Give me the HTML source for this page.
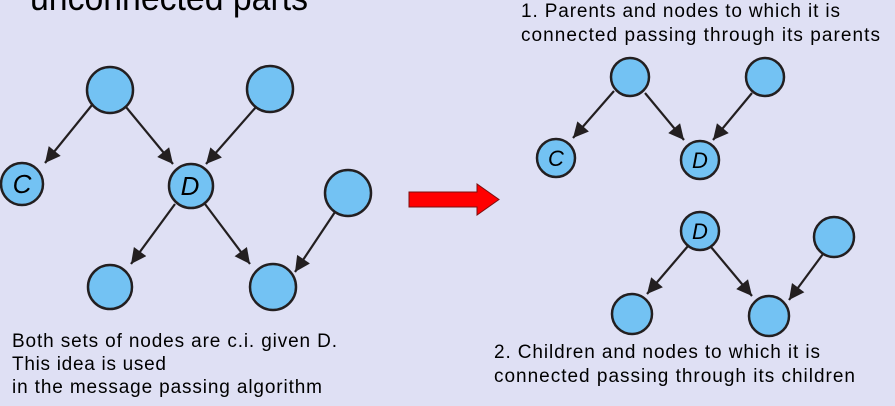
<!DOCTYPE html>
<html><head><meta charset="utf-8"><style>
body{margin:0;width:895px;height:406px;background:#dfe0f4;overflow:hidden}
svg{display:block}
text{font-family:"Liberation Sans",sans-serif;fill:#000}
</style></head><body>
<svg width="895" height="406" viewBox="0 0 895 406">
<defs>
<marker id="a" viewBox="0 0 10 10" refX="10" refY="5" markerWidth="8" markerHeight="7" orient="auto" markerUnits="strokeWidth">
<path d="M0,0 L10,5 L0,10 z" fill="#231f20"/></marker>
</defs>
<text x="30" y="10" font-size="36" textLength="278" lengthAdjust="spacingAndGlyphs">unconnected parts</text>
<g stroke="#231f20" stroke-width="2.2" fill="none" marker-end="url(#a)">
<line x1="92" y1="105" x2="45" y2="163"/>
<line x1="126" y1="107" x2="173" y2="164"/>
<line x1="256" y1="107" x2="206" y2="164"/>
<line x1="175" y1="204" x2="131" y2="264"/>
<line x1="205" y1="204" x2="250" y2="264"/>
<line x1="335" y1="212" x2="295" y2="272"/>
<line x1="614" y1="91" x2="573" y2="138"/>
<line x1="645" y1="93" x2="684" y2="140"/>
<line x1="752" y1="93" x2="713" y2="140"/>
<line x1="688" y1="246" x2="647" y2="294"/>
<line x1="711" y1="247" x2="752" y2="296"/>
<line x1="823" y1="254" x2="789" y2="300"/>
</g>
<g fill="#73c2f3" stroke="#231f20" stroke-width="2.5">
<circle cx="110" cy="90" r="23"/><circle cx="270" cy="89" r="23"/>
<circle cx="22" cy="184" r="21"/><circle cx="191" cy="186" r="22"/>
<circle cx="348" cy="193" r="23"/><circle cx="110" cy="287" r="22"/>
<circle cx="273" cy="287" r="23"/>
<circle cx="630" cy="77" r="19"/><circle cx="765" cy="77" r="19"/>
<circle cx="556" cy="158" r="19"/><circle cx="700" cy="160" r="19"/>
<circle cx="700" cy="231" r="19"/><circle cx="834" cy="237" r="20"/>
<circle cx="632" cy="314" r="20"/><circle cx="769" cy="316" r="20"/>
</g>
<g font-style="italic" font-size="26" text-anchor="middle">
<text x="22" y="193">C</text><text x="190" y="195">D</text>
</g>
<g font-style="italic" font-size="22" text-anchor="middle">
<text x="556" y="166">C</text><text x="700" y="168">D</text><text x="700" y="239">D</text>
</g>
<path d="M409,192 H477 V184 L499,199.5 L477,215 V207 H409 Z" fill="#f00" stroke="#7a1010" stroke-width="1"/>
<g font-size="19" lengthAdjust="spacingAndGlyphs">
<text x="521" y="17" textLength="319">1. Parents and nodes to which it is</text>
<text x="521" y="41" textLength="359">connected passing through its parents</text>
<text x="494" y="358" textLength="326">2. Children and nodes to which it is</text>
<text x="494" y="382" textLength="361">connected passing through its children</text>
<text x="12" y="347" textLength="325">Both sets of nodes are c.i. given D.</text>
<text x="12" y="370" textLength="154">This idea is used</text>
<text x="12" y="393" textLength="310">in the message passing algorithm</text>
</g>
</svg>
</body></html>
